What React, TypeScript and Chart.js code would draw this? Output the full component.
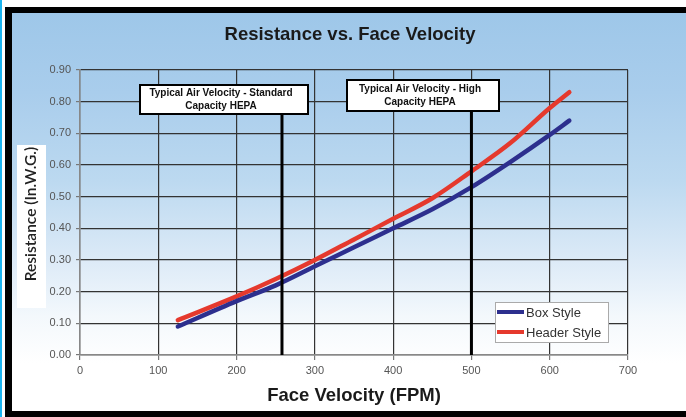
import React, { useEffect, useRef } from "react";
import { Chart, registerables } from "chart.js";

Chart.register(...registerables);

const velocities = [125, 200, 250, 300, 350, 400, 450, 500, 550, 600, 625];
const boxStyle = [0.09, 0.17, 0.22, 0.28, 0.34, 0.4, 0.46, 0.53, 0.61, 0.695, 0.74];
const headerStyle = [0.11, 0.185, 0.24, 0.3, 0.365, 0.43, 0.495, 0.58, 0.67, 0.78, 0.83];
const seriesNames = ["Box Style", "Header Style"];
const markerVelocities = [258, 500];
const markerLabels = [
  ["Typical Air Velocity - Standard", "Capacity HEPA"],
  ["Typical Air Velocity - High", "Capacity HEPA"],
];
const chartTitle = "Resistance vs. Face Velocity";
const xTitle = "Face Velocity (FPM)";
const yTitle = "Resistance (In.W.G.)";

const FONT = '"Liberation Sans", Arial, sans-serif';

// annotation box extents in data units
const markerBoxes = [
  { x0: 77, x1: 291, y0: 0.76, y1: 0.854 },
  { x0: 341, x1: 535, y0: 0.769, y1: 0.87 },
];

const decorPlugin = {
  id: "decor",
  afterDatasetsDraw(chart: any) {
    const { ctx, scales, chartArea } = chart;
    const x = scales.x;
    const y = scales.y;
    ctx.save();
    markerVelocities.forEach((v, i) => {
      const b = markerBoxes[i];
      const px = x.getPixelForValue(v);
      ctx.strokeStyle = "#000";
      ctx.lineWidth = 3;
      ctx.beginPath();
      ctx.moveTo(px, y.getPixelForValue(b.y0));
      ctx.lineTo(px, y.getPixelForValue(0));
      ctx.stroke();
      const l = Math.round(x.getPixelForValue(b.x0));
      const r = Math.round(x.getPixelForValue(b.x1));
      const t = Math.round(y.getPixelForValue(b.y1));
      const bt = Math.round(y.getPixelForValue(b.y0));
      ctx.fillStyle = "#fff";
      ctx.fillRect(l, t, r - l, bt - t);
      ctx.lineWidth = 2;
      ctx.strokeRect(l, t, r - l, bt - t);
      ctx.fillStyle = "#111";
      ctx.font = "bold 10px " + FONT;
      ctx.textAlign = "center";
      ctx.textBaseline = "middle";
      const cx = (l + r) / 2 - 3;
      const cy = (t + bt) / 2;
      ctx.fillText(markerLabels[i][0], cx, cy - 6.5);
      ctx.fillText(markerLabels[i][1], cx, cy + 6.5);
    });

    // legend
    const lx = chartArea.left + 415;
    const ly = chartArea.top + 232;
    const lw = 113;
    const lh = 40;
    ctx.fillStyle = "#fff";
    ctx.fillRect(lx, ly, lw, lh);
    ctx.strokeStyle = "#aaa";
    ctx.lineWidth = 1;
    ctx.strokeRect(lx + 0.5, ly + 0.5, lw, lh);
    chart.data.datasets.forEach((ds: any, i: number) => {
      const yy = ly + 10 + i * 20;
      ctx.strokeStyle = ds.borderColor;
      ctx.lineWidth = 4;
      ctx.beginPath();
      ctx.moveTo(lx + 2, yy);
      ctx.lineTo(lx + 29, yy);
      ctx.stroke();
      ctx.fillStyle = "#333";
      ctx.font = "13px " + FONT;
      ctx.textAlign = "left";
      ctx.textBaseline = "middle";
      ctx.fillText(ds.label, lx + 31, yy + 1);
    });
    ctx.restore();
  },
  afterDraw(chart: any) {
    const { ctx, chartArea, width } = chart;
    ctx.save();
    ctx.fillStyle = "#1a1a1a";
    ctx.textAlign = "center";
    ctx.textBaseline = "middle";
    ctx.font = "bold 18.5px " + FONT;
    ctx.fillText(chartTitle, width / 2 + 2, 22);
    ctx.fillText(xTitle, (chartArea.left + chartArea.right) / 2, 383);
    // y title with white backing
    ctx.fillStyle = "#fff";
    ctx.fillRect(5, 132, 29, 163);
    ctx.translate(19, 201);
    ctx.rotate(-Math.PI / 2);
    ctx.fillStyle = "#222";
    ctx.font = "600 15.5px Lato, sans-serif";
    ctx.fillText(yTitle, 0, 0);
    ctx.restore();
  },
};

export default function App() {
  const ref = useRef<HTMLCanvasElement | null>(null);
  useEffect(() => {
    if (!ref.current) return;
    const chart = new Chart(ref.current, {
      type: "line",
      data: {
        datasets: [
          {
            label: seriesNames[0],
            data: velocities.map((v, i) => ({ x: v, y: boxStyle[i] })),
            borderColor: "#2d2f8e",
            borderWidth: 4.5,
            pointRadius: 0,
            cubicInterpolationMode: "monotone",
            borderCapStyle: "round",
          },
          {
            label: seriesNames[1],
            data: velocities.map((v, i) => ({ x: v, y: headerStyle[i] })),
            borderColor: "#e5392d",
            borderWidth: 4.5,
            pointRadius: 0,
            cubicInterpolationMode: "monotone",
            borderCapStyle: "round",
          },
        ],
      },
      options: {
        responsive: false,
        animation: false,
        layout: { padding: { top: 57, right: 56, bottom: 0, left: 0 } },
        plugins: {
          legend: { display: false },
          title: { display: false },
          tooltip: { enabled: false },
        },
        scales: {
          x: {
            type: "linear",
            min: 0,
            max: 700,
            ticks: {
              stepSize: 100,
              color: "#555",
              font: { size: 11, family: FONT },
              padding: 4,
              maxRotation: 0,
            },
            grid: { color: "#333", lineWidth: 1.2, tickLength: 5, tickColor: "#777" },
            border: { color: "#888", width: 1.5 },
            afterFit(s: any) {
              s.height = 56;
            },
          },
          y: {
            min: 0,
            max: 0.9,
            ticks: {
              stepSize: 0.1,
              color: "#555",
              font: { size: 11, family: FONT },
              padding: 5,
              callback: (v: any) => Number(v).toFixed(2),
            },
            grid: { color: "#333", lineWidth: 1.2, tickLength: 4, tickColor: "#777" },
            border: { color: "#888", width: 1.5 },
            afterFit(s: any) {
              s.width = 68;
            },
          },
        },
      },
      plugins: [decorPlugin],
    } as any);
    return () => chart.destroy();
  }, []);

  return (
    <div
      style={{
        position: "absolute",
        left: 0,
        top: 0,
        width: 686,
        height: 417,
        background: "#fff",
        overflow: "hidden",
      }}
    >
      <div style={{ position: "absolute", left: 0, top: 0, width: 2, height: 417, background: "#1ab4f0" }} />
      <div style={{ position: "absolute", left: 5, top: 7, width: 681, height: 410, background: "#000" }} />
      <div
        style={{
          position: "absolute",
          left: 12,
          top: 13,
          width: 674,
          height: 398,
          background:
            "linear-gradient(to bottom, #9ec7e9 0%, #a9cdec 20%, #bcd9f0 42%, #dceaf7 62%, #f3f8fc 76%, #ffffff 88%, #ffffff 100%)",
        }}
      >
        <canvas ref={ref} width={672} height={398} style={{ display: "block" }} />
      </div>
    </div>
  );
}
